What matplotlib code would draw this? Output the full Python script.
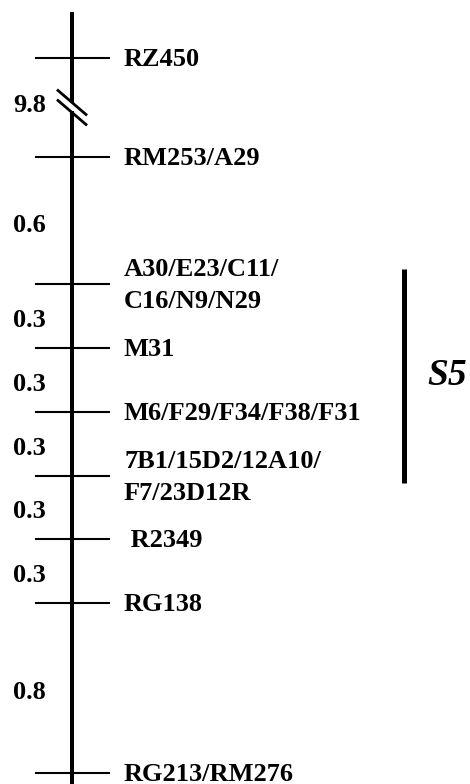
import numpy as np
import matplotlib.pyplot as plt

# linkage map of the S5 region
markers = ["RZ450", "RM253/A29", "A30/E23/C11/\nC16/N9/N29", "M31",
           "M6/F29/F34/F38/F31", "7B1/15D2/12A10/\nF7/23D12R", " R2349",
           "RG138", "RG213/RM276"]
intervals = [9.8, 0.6, 0.3, 0.3, 0.3, 0.3, 0.3, 0.8]   # cM between markers
interval_labels = ["9.8", "0.6", "0.3", "0.3", "0.3", "0.3", "0.3", "0.8"]
qtl_name = "S5"
qtl_from, qtl_to = 2, 5      # markers covered by the S5 bar

# the first interval is broken, so draw it shorter than it is
drawn = np.array(intervals, dtype=float)
drawn[0] = 0.466
pos = np.concatenate([[0], np.cumsum(drawn)])

px = 212.4          # pixels per cM on screen
top_px = 58         # where RZ450 sits
W, H = 470, 784

fig = plt.figure(figsize=(W / 100, H / 100), dpi=100)
ax = fig.add_axes([0, 0, 1, 1])
ax.set_xlim(0, W)
ax.set_ylim((H - top_px) / px, -top_px / px)
ax.axis("off")

font = dict(family=["Liberation Serif", "DejaVu Serif"], fontweight="bold", fontsize=19)

x_chr = 72
p = 1 / px   # one pixel in data units

# chromosome line, with the gap at the break
brk = (pos[0] + pos[1]) / 2
ax.plot([x_chr, x_chr], [-46 * p, brk - 4 * p], color="k", lw=2.9, solid_capstyle="butt")
ax.plot([x_chr, x_chr], [brk + 4 * p, pos[-1] + 20 * p], color="k", lw=2.9, solid_capstyle="butt")
for dy in (-5, 5):
    ax.plot([x_chr - 14, x_chr + 14], [brk + (dy - 12) * p, brk + (dy + 12) * p],
            color="k", lw=2.0)

# marker ticks and names
for y, name in zip(pos, markers):
    ax.plot([36, 109], [y, y], color="k", lw=1.5)
    lines = name.split("\n")
    n = len(lines)
    for i, ln in enumerate(lines):
        yb = y + (8 + (i - (n - 1) / 2) * 32) * p
        ax.text(124, yb, ln, ha="left", va="baseline", **font)

# interval distances
for i, lab in enumerate(interval_labels):
    ymid = (pos[i] + pos[i + 1]) / 2
    off = 5 if i == 0 else 11
    ax.text(46, ymid + off * p, lab, ha="right", va="baseline", **font)

# QTL bar
y0 = pos[qtl_from] - 15 * p
y1 = pos[qtl_to] + 7 * p
ax.plot([404, 404], [y0, y1], color="k", lw=3.6, solid_capstyle="butt")
ax.text(447, (y0 + y1) / 2, qtl_name, ha="center", va="center",
        family=["Liberation Serif", "DejaVu Serif"], fontweight="bold",
        fontstyle="italic", fontsize=27)

fig.savefig("out.png", dpi=100)
